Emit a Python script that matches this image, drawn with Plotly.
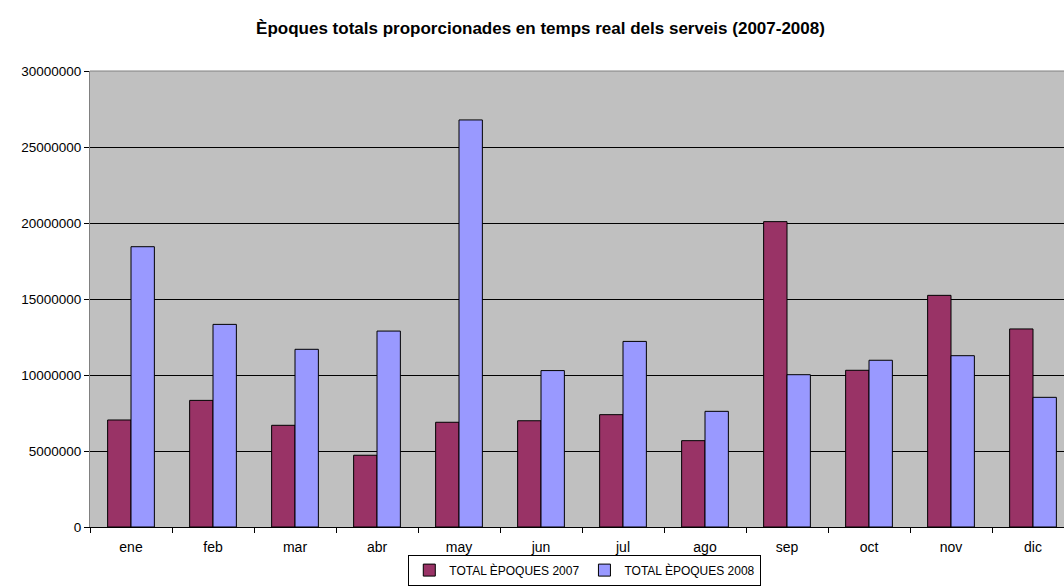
import plotly.graph_objects as go

months = ["ene", "feb", "mar", "abr", "may", "jun", "jul", "ago", "sep", "oct", "nov", "dic"]
total_2007 = [7040000, 8330000, 6690000, 4720000, 6890000, 6990000, 7390000, 5680000, 20090000, 10310000, 15240000, 13030000]
total_2008 = [18440000, 13330000, 11690000, 12890000, 26780000, 10290000, 12210000, 7610000, 10020000, 10970000, 11270000, 8530000]
y_ticks = [0, 5000000, 10000000, 15000000, 20000000, 25000000, 30000000]

FONT = "Liberation Sans, Arial, sans-serif"

fig = go.Figure()
fig.add_trace(go.Bar(x=months, y=total_2007, name="TOTAL ÈPOQUES 2007",
                     marker=dict(color="#993366", line=dict(color="black", width=1))))
fig.add_trace(go.Bar(x=months, y=total_2008, name="TOTAL ÈPOQUES 2008",
                     marker=dict(color="#9999FF", line=dict(color="black", width=1))))

fig.update_layout(
    width=1064, height=587,
    margin=dict(l=90, r=0, t=71, b=60, autoexpand=False),
    paper_bgcolor="white", plot_bgcolor="#C0C0C0",
    barmode="group", bargap=0.43, bargroupgap=0,
    font=dict(family=FONT, size=13, color="black"),
    title=dict(text="<b>Èpoques totals proporcionades en temps real dels serveis (2007-2008)</b>",
               x=0.508, xref="container", xanchor="center", y=0.952, yanchor="middle",
               font=dict(family=FONT, size=17, color="black")),
    showlegend=True,
    legend=dict(orientation="h", x=0.508, xanchor="center", y=-0.1285, yanchor="bottom",
                bordercolor="black", borderwidth=1, bgcolor="white",
                font=dict(family=FONT, size=12), itemwidth=30, tracegroupgap=0,
                traceorder="normal"),
)
fig.update_xaxes(type="category", range=[-0.5, 11.378], tickson="boundaries",
                 ticks="outside", ticklen=5, tickcolor="black",
                 showline=True, linecolor="black", linewidth=1,
                 showgrid=False, tickfont=dict(family=FONT, size=14),
                 ticklabelstandoff=7)
fig.update_yaxes(range=[0, 30000000], tickvals=y_ticks, ticktext=[str(v) for v in y_ticks],
                 ticks="outside", ticklen=5, tickcolor="black",
                 showline=True, linecolor="#808080", linewidth=1,
                 showgrid=True, gridcolor="black", gridwidth=1, zeroline=False,
                 tickfont=dict(family=FONT, size=13.5))
fig.add_shape(type="line", xref="paper", yref="paper", x0=0, x1=1, y0=1, y1=1,
              line=dict(color="#808080", width=1))

fig.write_html("out.html", config={"displayModeBar": False},
               post_script="document.body.style.margin='0';document.body.style.overflow='hidden';")
